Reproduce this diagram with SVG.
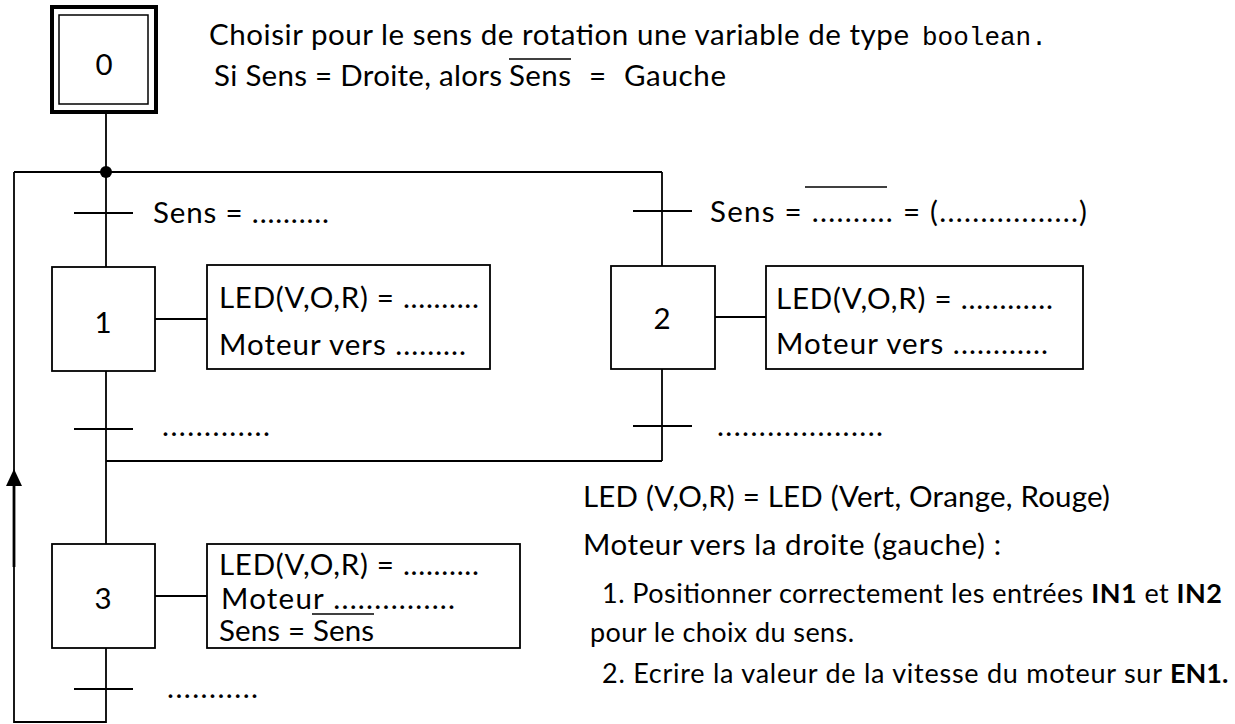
<svg xmlns="http://www.w3.org/2000/svg" width="1235" height="724" viewBox="0 0 1235 724">
<style>
.ln{stroke:#000;stroke-width:1.8;fill:none}
.bx{stroke:#000;stroke-width:1.8;fill:#fff}
.t{font-family:Lato,"Open Sans",sans-serif;font-size:29.5px;fill:#000}
.s{font-family:Lato,"Open Sans",sans-serif;font-size:27px;fill:#000}
.n{font-family:Lato,"Open Sans",sans-serif;font-size:29.5px;fill:#000;text-anchor:middle}
.m{font-family:"Liberation Mono","Courier New",monospace;font-size:26px;fill:#000}
.b{font-weight:bold}
</style>
<rect width="1235" height="724" fill="#fff"/>
<g id="connectors">
<line class="ln" x1="106" y1="113" x2="106" y2="267"/>
<line class="ln" x1="14" y1="172" x2="662" y2="172"/>
<line class="ln" x1="14" y1="172" x2="14" y2="723"/>
<line x1="14" y1="480" x2="14" y2="567" stroke="#000" stroke-width="2.8"/>
<polygon points="14,469 6,486 22,486" fill="#000"/>
<line class="ln" x1="14" y1="722" x2="106" y2="722"/>
<line class="ln" x1="106" y1="371" x2="106" y2="544"/>
<line class="ln" x1="106" y1="648" x2="106" y2="723"/>
<line class="ln" x1="662" y1="172" x2="662" y2="266"/>
<line class="ln" x1="662" y1="369" x2="662" y2="461"/>
<line class="ln" x1="106" y1="461" x2="662" y2="461"/>
<circle cx="106" cy="172" r="6" fill="#000"/>
<line class="ln" x1="155" y1="319" x2="207" y2="319"/>
<line class="ln" x1="715" y1="317" x2="766" y2="317"/>
<line class="ln" x1="155" y1="596" x2="207" y2="596"/>
</g>
<g id="step0">
<rect x="52" y="7" width="104" height="105" fill="#fff" stroke="#000" stroke-width="4"/>
<rect x="59" y="15" width="89" height="89" fill="none" stroke="#000" stroke-width="1.5"/>
<text class="n" x="104" y="75">0</text>
</g>
<g id="note-top">
<text class="t" x="209" y="45" textLength="700">Choisir pour le sens de rotation une variable de type</text>
<text class="m" x="922" y="45">boolean.</text>
<text class="t" x="214" y="86" textLength="288">Si Sens = Droite, alors</text>
<text class="t" x="509" y="86" textLength="62">Sens</text>
<text class="t" x="589" y="86">=</text>
<text class="t" x="624" y="86" textLength="102">Gauche</text>
<line class="ln" x1="509" y1="59" x2="571" y2="59" style="stroke-width:1.5"/>
</g>
<g id="transition1">
<line class="ln" x1="74" y1="213" x2="133" y2="213"/>
<text class="t" x="153" y="223" textLength="176">Sens = ..........</text>
</g>
<g id="transition2">
<line class="ln" x1="633" y1="211" x2="692" y2="211"/>
<text class="t" x="710" y="222" textLength="377">Sens = .......... = (.................)</text>
<line class="ln" x1="805" y1="187" x2="887" y2="187" style="stroke-width:1.5"/>
</g>
<g id="step1">
<rect class="bx" x="52" y="267" width="103" height="104"/>
<text class="n" x="103" y="333">1</text>
</g>
<g id="action1">
<rect class="bx" x="207" y="265" width="283" height="104"/>
<text class="t" x="219" y="308" textLength="260">LED(V,O,R) = ..........</text>
<text class="t" x="219" y="355" textLength="247">Moteur vers .........</text>
</g>
<g id="step2">
<rect class="bx" x="611" y="266" width="104" height="103"/>
<text class="n" x="662" y="329">2</text>
</g>
<g id="action2">
<rect class="bx" x="766" y="266" width="317" height="103"/>
<text class="t" x="776" y="309" textLength="277">LED(V,O,R) = ............</text>
<text class="t" x="776" y="354" textLength="272">Moteur vers ............</text>
</g>
<g id="transition3">
<line class="ln" x1="74" y1="429" x2="133" y2="429"/>
<text class="t" x="162" y="436" textLength="108">.............</text>
</g>
<g id="transition4">
<line class="ln" x1="633" y1="426" x2="692" y2="426"/>
<text class="t" x="717" y="436" textLength="166">....................</text>
</g>
<g id="step3">
<rect class="bx" x="52" y="544" width="103" height="104"/>
<text class="n" x="103" y="609">3</text>
</g>
<g id="action3">
<rect class="bx" x="207" y="544" width="313" height="104"/>
<text class="t" x="219" y="575" textLength="260">LED(V,O,R) = ..........</text>
<text class="t" x="221" y="609" textLength="234">Moteur ...............</text>
<text class="t" x="219" y="641" textLength="155">Sens = Sens</text>
<line class="ln" x1="312" y1="614" x2="374" y2="614" style="stroke-width:1.5"/>
</g>
<g id="transition5">
<line class="ln" x1="74" y1="689" x2="133" y2="689"/>
<text class="t" x="167" y="698" textLength="91">...........</text>
</g>
<g id="legend">
<text class="t" x="583" y="507" textLength="527">LED (V,O,R) = LED (Vert, Orange, Rouge)</text>
<text class="t" x="583" y="555" textLength="418">Moteur vers la droite (gauche) :</text>
<text class="s" x="602" y="603" textLength="620">1. Positionner correctement les entrées <tspan class="b">IN1</tspan> et <tspan class="b">IN2</tspan></text>
<text class="s" x="590" y="642" textLength="264">pour le choix du sens.</text>
<text class="s" x="602" y="683" textLength="560">2. Ecrire la valeur de la vitesse du moteur sur</text>
<text class="s b" x="1170" y="683">EN1.</text>
</g>
</svg>
